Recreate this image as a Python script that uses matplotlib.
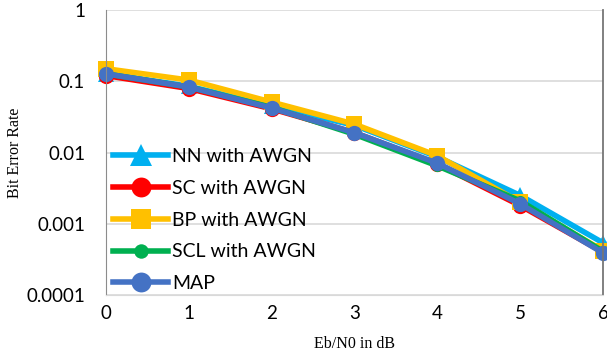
import numpy as np
import matplotlib
matplotlib.use("Agg")
import matplotlib.pyplot as plt

snr_db = [0, 1, 2, 3, 4, 5, 6]

ber_nn  = [0.128, 0.085, 0.045, 0.024, 0.0087, 0.0025, 0.00054]
ber_sc  = [0.120, 0.079, 0.041, 0.019, 0.0069, 0.0018, 0.00040]
ber_bp  = [0.150, 0.104, 0.051, 0.025, 0.0090, 0.0020, 0.00042]
ber_scl = [0.127, 0.083, 0.043, 0.018, 0.0065, 0.0021, 0.00041]
ber_map = [0.127, 0.083, 0.042, 0.019, 0.0071, 0.0019, 0.00039]

series = [
    ("NN with AWGN",  ber_nn,  "#00B0F0", "^", 12),
    ("SC with AWGN",  ber_sc,  "#FF0000", "o", 11),
    ("BP with AWGN",  ber_bp,  "#FFC000", "s", 11),
    ("SCL with AWGN", ber_scl, "#00B050", "o", 8),
    ("MAP",           ber_map, "#4472C4", "o", 11),
]

fig = plt.figure(figsize=(6.07, 3.52), dpi=100)
ax = fig.add_axes([0.1746, 0.1619, 0.8188, 0.8097])

for label, y, color, marker, ms in series:
    ax.plot(snr_db, y, color=color, lw=4, marker=marker, ms=ms,
            markeredgewidth=0, label=label, clip_on=False)

ax.set_yscale("log")
ax.set_xlim(0, 6)
ax.set_ylim(1e-4, 1)
ax.set_yticks([1e-4, 1e-3, 1e-2, 1e-1, 1])
ax.set_yticklabels(["0.0001", "0.001", "0.01", "0.1", "1"])
ax.minorticks_off()
ax.set_xticks(snr_db)
ax.grid(axis="y", color="#d9d9d9", lw=1.2)
ax.set_axisbelow(True)
ax.spines["top"].set_visible(False)
ax.spines["bottom"].set_color("#d9d9d9")
ax.spines["left"].set_color("#8c8c8c")
ax.spines["right"].set_color("#767676")
ax.spines["right"].set_linewidth(1.3)
ax.tick_params(axis="y", length=0, labelsize=13.5, pad=15)
ax.tick_params(axis="x", length=0, labelsize=13.5, pad=7)
for t in ax.get_xticklabels() + ax.get_yticklabels():
    t.set_family("Lato")

ax.set_xlabel("Eb/N0 in dB", family="Liberation Serif", fontsize=11.5, labelpad=10)
ax.set_ylabel("Bit Error Rate", family="Liberation Serif", fontsize=11.5, labelpad=2)

ax.legend(loc="lower left", bbox_to_anchor=(0.014, 0.01), frameon=False,
          prop={"family": "Lato", "size": 14}, handlelength=2.85,
          labelspacing=0.76, handletextpad=0.2, borderaxespad=0, borderpad=0,
          markerscale=1.3)

fig.savefig("out.png", dpi=100)
